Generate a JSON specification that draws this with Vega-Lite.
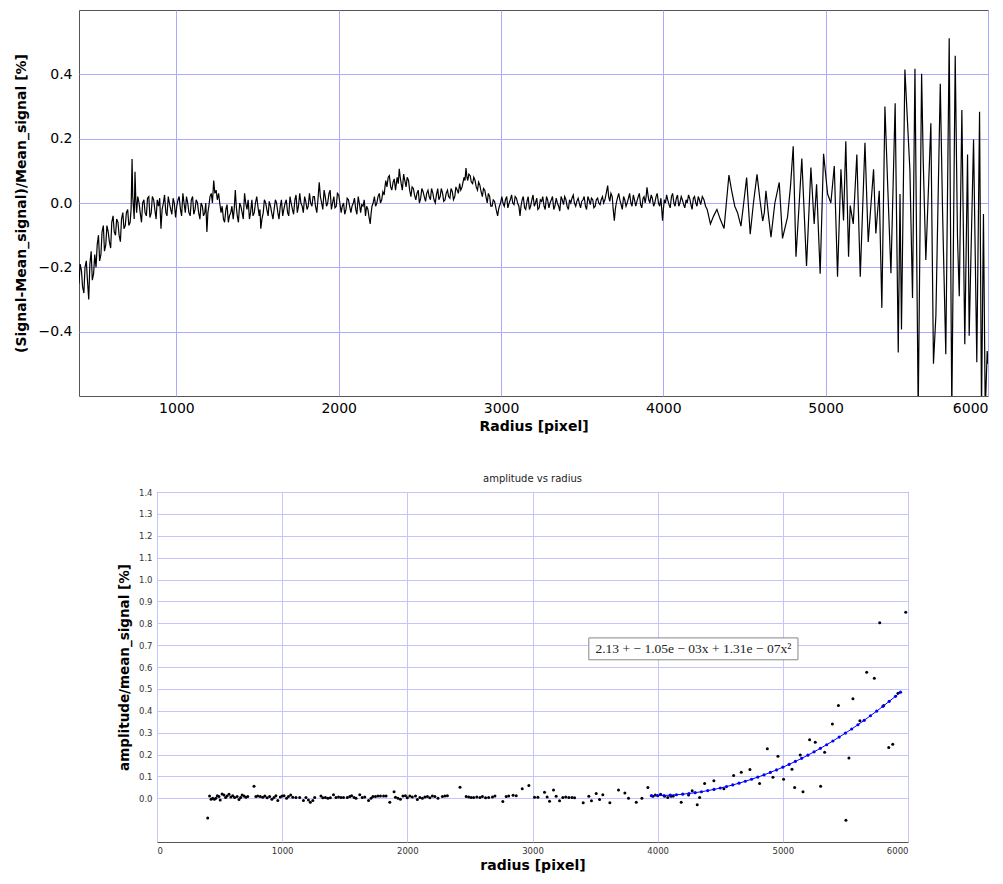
{
  "$schema": "https://vega.github.io/schema/vega-lite/v6.json",
  "background": "white",
  "padding": {"left": 13, "top": 9, "right": 0, "bottom": 0},
  "spacing": 39,
  "config": {
    "view": {"stroke": "#555555", "strokeWidth": 1},
    "font": "DejaVu Sans",
    "axis": {"domain": false, "ticks": false, "labelFont": "DejaVu Sans", "titleFont": "DejaVu Sans", "labelColor": "#000", "titleColor": "#000"}
  },
  "vconcat": [
    {
      "width": 909,
      "height": 386,
      "data": {"values": [
{"r":400,"v":-0.25},{"r":407,"v":-0.19},{"r":415,"v":-0.21},{"r":422,"v":-0.26},{"r":430,"v":-0.28},{"r":437,"v":-0.20},{"r":445,"v":-0.18},{"r":452,"v":-0.24},{"r":460,"v":-0.30},{"r":467,"v":-0.19},{"r":475,"v":-0.15},{"r":482,"v":-0.24},{"r":490,"v":-0.22},{"r":497,"v":-0.16},{"r":505,"v":-0.20},{"r":512,"v":-0.13},{"r":520,"v":-0.10},{"r":527,"v":-0.18},{"r":535,"v":-0.16},{"r":542,"v":-0.09},{"r":550,"v":-0.07},{"r":557,"v":-0.15},{"r":565,"v":-0.13},{"r":572,"v":-0.07},{"r":580,"v":-0.09},{"r":587,"v":-0.12},{"r":595,"v":-0.14},{"r":602,"v":-0.06},{"r":610,"v":-0.04},{"r":617,"v":-0.09},{"r":625,"v":-0.10},{"r":632,"v":-0.05},{"r":640,"v":-0.06},{"r":647,"v":-0.10},{"r":655,"v":-0.12},{"r":662,"v":-0.05},{"r":670,"v":-0.03},{"r":677,"v":-0.08},{"r":685,"v":-0.07},{"r":692,"v":-0.03},{"r":700,"v":-0.02},{"r":707,"v":-0.07},{"r":715,"v":-0.06},{"r":721,"v":-0.02},{"r":727,"v":0.137},{"r":731,"v":0.02},{"r":735,"v":-0.01},{"r":740,"v":-0.05},{"r":745,"v":0.097},{"r":750,"v":0.01},{"r":755,"v":-0.03},{"r":762,"v":0.02},{"r":770,"v":0.0},{"r":777,"v":-0.03},{"r":785,"v":-0.06},{"r":792,"v":0.0},{"r":800,"v":0.01},{"r":807,"v":-0.03},{"r":815,"v":-0.04},{"r":822,"v":0.015},{"r":830,"v":0.02},{"r":837,"v":-0.045},{"r":845,"v":-0.03},{"r":852,"v":0.02},{"r":860,"v":0.01},{"r":867,"v":-0.02},{"r":875,"v":-0.05},{"r":882,"v":0.01},{"r":890,"v":-0.01},{"r":897,"v":0.015},{"r":905,"v":-0.08},{"r":912,"v":-0.02},{"r":920,"v":0.0},{"r":927,"v":0.025},{"r":935,"v":-0.03},{"r":942,"v":-0.04},{"r":950,"v":0.02},{"r":957,"v":0.0},{"r":965,"v":-0.02},{"r":972,"v":-0.035},{"r":980,"v":0.015},{"r":987,"v":0.0},{"r":995,"v":-0.045},{"r":1002,"v":-0.01},{"r":1010,"v":0.01},{"r":1017,"v":0.02},{"r":1025,"v":-0.02},{"r":1032,"v":-0.04},{"r":1040,"v":0.03},{"r":1047,"v":0.0},{"r":1055,"v":-0.03},{"r":1062,"v":0.02},{"r":1070,"v":0.0},{"r":1077,"v":-0.03},{"r":1085,"v":-0.04},{"r":1092,"v":0.01},{"r":1100,"v":0.02},{"r":1107,"v":-0.035},{"r":1115,"v":-0.02},{"r":1122,"v":0.01},{"r":1130,"v":0.0},{"r":1137,"v":-0.03},{"r":1145,"v":-0.05},{"r":1152,"v":0.0},{"r":1160,"v":-0.01},{"r":1167,"v":-0.04},{"r":1175,"v":-0.03},{"r":1181,"v":0.0},{"r":1188,"v":-0.09},{"r":1194,"v":-0.03},{"r":1200,"v":-0.01},{"r":1207,"v":0.02},{"r":1215,"v":0.03},{"r":1222,"v":0.0},{"r":1230,"v":0.07},{"r":1237,"v":0.03},{"r":1245,"v":0.04},{"r":1252,"v":0.01},{"r":1260,"v":0.03},{"r":1267,"v":0.0},{"r":1275,"v":-0.03},{"r":1282,"v":-0.01},{"r":1290,"v":-0.05},{"r":1297,"v":-0.06},{"r":1305,"v":-0.02},{"r":1312,"v":-0.005},{"r":1320,"v":-0.06},{"r":1327,"v":-0.04},{"r":1335,"v":-0.03},{"r":1342,"v":-0.01},{"r":1350,"v":-0.05},{"r":1356,"v":-0.02},{"r":1363,"v":0.04},{"r":1369,"v":-0.01},{"r":1375,"v":-0.04},{"r":1382,"v":-0.06},{"r":1390,"v":0.0},{"r":1397,"v":-0.01},{"r":1405,"v":-0.03},{"r":1412,"v":-0.05},{"r":1420,"v":0.03},{"r":1427,"v":0.0},{"r":1435,"v":-0.02},{"r":1442,"v":0.01},{"r":1450,"v":-0.05},{"r":1457,"v":-0.03},{"r":1465,"v":0.01},{"r":1472,"v":-0.04},{"r":1480,"v":-0.03},{"r":1487,"v":0.0},{"r":1495,"v":0.02},{"r":1502,"v":-0.01},{"r":1510,"v":-0.04},{"r":1515,"v":-0.02},{"r":1520,"v":-0.08},{"r":1527,"v":-0.05},{"r":1535,"v":-0.03},{"r":1542,"v":0.01},{"r":1550,"v":0.0},{"r":1557,"v":-0.02},{"r":1565,"v":-0.04},{"r":1572,"v":0.005},{"r":1580,"v":-0.01},{"r":1587,"v":-0.03},{"r":1595,"v":-0.05},{"r":1602,"v":-0.02},{"r":1610,"v":0.01},{"r":1617,"v":0.0},{"r":1625,"v":-0.03},{"r":1632,"v":-0.05},{"r":1640,"v":-0.01},{"r":1647,"v":0.01},{"r":1655,"v":-0.04},{"r":1662,"v":-0.02},{"r":1670,"v":0.0},{"r":1677,"v":0.01},{"r":1685,"v":-0.03},{"r":1692,"v":-0.04},{"r":1700,"v":0.02},{"r":1707,"v":0.0},{"r":1715,"v":-0.02},{"r":1722,"v":-0.035},{"r":1730,"v":0.01},{"r":1737,"v":0.025},{"r":1745,"v":-0.03},{"r":1752,"v":-0.01},{"r":1760,"v":0.03},{"r":1767,"v":0.0},{"r":1775,"v":-0.01},{"r":1782,"v":-0.03},{"r":1790,"v":0.02},{"r":1797,"v":0.005},{"r":1805,"v":-0.02},{"r":1812,"v":-0.01},{"r":1820,"v":0.03},{"r":1827,"v":0.0},{"r":1835,"v":-0.01},{"r":1842,"v":0.02},{"r":1850,"v":0.02},{"r":1857,"v":-0.01},{"r":1865,"v":-0.03},{"r":1872,"v":0.01},{"r":1880,"v":0.064},{"r":1887,"v":0.02},{"r":1895,"v":0.0},{"r":1902,"v":-0.02},{"r":1910,"v":0.04},{"r":1917,"v":0.02},{"r":1925,"v":-0.01},{"r":1932,"v":0.0},{"r":1940,"v":0.03},{"r":1947,"v":0.04},{"r":1955,"v":-0.02},{"r":1962,"v":0.0},{"r":1970,"v":0.02},{"r":1977,"v":-0.015},{"r":1985,"v":-0.01},{"r":1992,"v":0.03},{"r":2000,"v":0.025},{"r":2007,"v":0.0},{"r":2015,"v":-0.03},{"r":2022,"v":-0.01},{"r":2030,"v":0.0},{"r":2037,"v":-0.035},{"r":2045,"v":-0.02},{"r":2052,"v":0.015},{"r":2060,"v":0.01},{"r":2067,"v":-0.01},{"r":2075,"v":-0.03},{"r":2082,"v":-0.01},{"r":2090,"v":0.0},{"r":2097,"v":0.015},{"r":2105,"v":-0.02},{"r":2112,"v":-0.035},{"r":2120,"v":0.02},{"r":2127,"v":0.0},{"r":2135,"v":-0.03},{"r":2142,"v":-0.005},{"r":2150,"v":-0.01},{"r":2157,"v":0.01},{"r":2165,"v":-0.04},{"r":2172,"v":-0.01},{"r":2180,"v":-0.02},{"r":2187,"v":-0.045},{"r":2194,"v":-0.065},{"r":2200,"v":-0.03},{"r":2205,"v":-0.01},{"r":2212,"v":0.0},{"r":2220,"v":0.02},{"r":2227,"v":-0.01},{"r":2235,"v":0.0},{"r":2242,"v":0.02},{"r":2250,"v":0.03},{"r":2257,"v":0.0},{"r":2265,"v":0.01},{"r":2272,"v":0.035},{"r":2280,"v":0.025},{"r":2285,"v":0.05},{"r":2290,"v":0.07},{"r":2297,"v":0.05},{"r":2305,"v":0.08},{"r":2312,"v":0.085},{"r":2320,"v":0.05},{"r":2327,"v":0.04},{"r":2335,"v":0.065},{"r":2342,"v":0.075},{"r":2350,"v":0.04},{"r":2355,"v":0.06},{"r":2360,"v":0.08},{"r":2367,"v":0.06},{"r":2373,"v":0.106},{"r":2379,"v":0.08},{"r":2385,"v":0.06},{"r":2392,"v":0.04},{"r":2400,"v":0.09},{"r":2407,"v":0.07},{"r":2415,"v":0.05},{"r":2422,"v":0.08},{"r":2430,"v":0.07},{"r":2437,"v":0.04},{"r":2445,"v":0.02},{"r":2452,"v":0.05},{"r":2460,"v":0.045},{"r":2467,"v":0.025},{"r":2475,"v":0.01},{"r":2482,"v":0.03},{"r":2490,"v":0.04},{"r":2497,"v":0.0},{"r":2505,"v":0.015},{"r":2512,"v":0.045},{"r":2520,"v":0.035},{"r":2527,"v":0.02},{"r":2535,"v":0.005},{"r":2542,"v":0.03},{"r":2550,"v":0.04},{"r":2557,"v":0.02},{"r":2565,"v":0.01},{"r":2572,"v":0.045},{"r":2580,"v":0.03},{"r":2587,"v":0.01},{"r":2595,"v":0.0},{"r":2602,"v":0.025},{"r":2610,"v":0.045},{"r":2617,"v":0.01},{"r":2625,"v":0.02},{"r":2632,"v":0.045},{"r":2640,"v":0.03},{"r":2647,"v":0.005},{"r":2655,"v":0.01},{"r":2662,"v":0.03},{"r":2670,"v":0.04},{"r":2677,"v":0.02},{"r":2685,"v":0.015},{"r":2692,"v":0.045},{"r":2700,"v":0.035},{"r":2707,"v":0.01},{"r":2715,"v":0.02},{"r":2722,"v":0.05},{"r":2730,"v":0.04},{"r":2737,"v":0.03},{"r":2745,"v":0.06},{"r":2752,"v":0.04},{"r":2760,"v":0.05},{"r":2766,"v":0.065},{"r":2772,"v":0.08},{"r":2778,"v":0.07},{"r":2784,"v":0.109},{"r":2790,"v":0.08},{"r":2795,"v":0.07},{"r":2802,"v":0.09},{"r":2810,"v":0.085},{"r":2817,"v":0.065},{"r":2825,"v":0.06},{"r":2832,"v":0.08},{"r":2840,"v":0.07},{"r":2847,"v":0.05},{"r":2855,"v":0.04},{"r":2862,"v":0.065},{"r":2870,"v":0.055},{"r":2877,"v":0.035},{"r":2885,"v":0.02},{"r":2892,"v":0.045},{"r":2900,"v":0.04},{"r":2907,"v":0.02},{"r":2915,"v":0.0},{"r":2922,"v":0.03},{"r":2930,"v":0.02},{"r":2937,"v":-0.01},{"r":2945,"v":-0.01},{"r":2952,"v":0.01},{"r":2960,"v":0.005},{"r":2970,"v":-0.02},{"r":2979,"v":-0.04},{"r":2985,"v":-0.02},{"r":2990,"v":-0.01},{"r":2997,"v":0.0},{"r":3005,"v":0.02},{"r":3012,"v":0.0},{"r":3020,"v":-0.01},{"r":3027,"v":0.01},{"r":3035,"v":0.02},{"r":3042,"v":-0.015},{"r":3050,"v":0.0},{"r":3057,"v":0.01},{"r":3065,"v":0.025},{"r":3072,"v":0.0},{"r":3080,"v":-0.005},{"r":3087,"v":0.02},{"r":3095,"v":0.015},{"r":3102,"v":0.0},{"r":3110,"v":-0.01},{"r":3117,"v":-0.04},{"r":3123,"v":-0.01},{"r":3130,"v":0.01},{"r":3137,"v":0.02},{"r":3145,"v":-0.015},{"r":3152,"v":-0.02},{"r":3160,"v":0.005},{"r":3167,"v":0.02},{"r":3175,"v":-0.02},{"r":3182,"v":-0.01},{"r":3190,"v":0.01},{"r":3197,"v":0.025},{"r":3205,"v":-0.01},{"r":3212,"v":0.0},{"r":3220,"v":0.015},{"r":3227,"v":-0.02},{"r":3235,"v":-0.015},{"r":3242,"v":0.01},{"r":3250,"v":0.005},{"r":3257,"v":0.02},{"r":3265,"v":-0.01},{"r":3272,"v":-0.02},{"r":3280,"v":0.02},{"r":3287,"v":0.01},{"r":3295,"v":-0.015},{"r":3302,"v":0.0},{"r":3310,"v":0.01},{"r":3317,"v":0.02},{"r":3325,"v":-0.02},{"r":3332,"v":-0.01},{"r":3340,"v":0.015},{"r":3347,"v":0.0},{"r":3355,"v":-0.01},{"r":3362,"v":-0.025},{"r":3370,"v":0.02},{"r":3377,"v":0.01},{"r":3385,"v":-0.005},{"r":3392,"v":0.02},{"r":3400,"v":0.01},{"r":3407,"v":-0.01},{"r":3415,"v":-0.02},{"r":3422,"v":0.01},{"r":3430,"v":0.0},{"r":3437,"v":0.015},{"r":3445,"v":0.025},{"r":3452,"v":0.0},{"r":3460,"v":-0.01},{"r":3467,"v":0.005},{"r":3475,"v":0.015},{"r":3482,"v":0.0},{"r":3490,"v":-0.015},{"r":3497,"v":0.005},{"r":3505,"v":0.01},{"r":3512,"v":0.02},{"r":3520,"v":-0.01},{"r":3527,"v":-0.02},{"r":3535,"v":0.02},{"r":3542,"v":0.01},{"r":3550,"v":-0.005},{"r":3557,"v":0.015},{"r":3565,"v":0.01},{"r":3572,"v":-0.015},{"r":3580,"v":-0.01},{"r":3587,"v":0.01},{"r":3595,"v":0.015},{"r":3602,"v":0.0},{"r":3610,"v":-0.005},{"r":3617,"v":0.01},{"r":3625,"v":0.02},{"r":3632,"v":0.0},{"r":3640,"v":0.01},{"r":3648,"v":0.03},{"r":3657,"v":0.054},{"r":3663,"v":0.02},{"r":3670,"v":0.005},{"r":3677,"v":0.03},{"r":3685,"v":0.02},{"r":3691,"v":-0.02},{"r":3698,"v":-0.055},{"r":3704,"v":-0.02},{"r":3710,"v":0.0},{"r":3717,"v":0.015},{"r":3725,"v":0.03},{"r":3732,"v":0.01},{"r":3740,"v":-0.005},{"r":3747,"v":-0.02},{"r":3755,"v":0.02},{"r":3762,"v":0.01},{"r":3770,"v":-0.01},{"r":3777,"v":0.0},{"r":3785,"v":0.015},{"r":3792,"v":0.03},{"r":3800,"v":0.0},{"r":3807,"v":-0.01},{"r":3815,"v":0.025},{"r":3822,"v":0.01},{"r":3830,"v":-0.01},{"r":3837,"v":0.005},{"r":3845,"v":0.02},{"r":3852,"v":0.03},{"r":3860,"v":-0.005},{"r":3867,"v":-0.015},{"r":3875,"v":0.015},{"r":3881,"v":0.02},{"r":3888,"v":0.0},{"r":3894,"v":0.02},{"r":3899,"v":0.049},{"r":3904,"v":0.03},{"r":3910,"v":0.01},{"r":3917,"v":0.0},{"r":3925,"v":0.025},{"r":3932,"v":0.015},{"r":3940,"v":-0.01},{"r":3947,"v":0.0},{"r":3955,"v":0.02},{"r":3962,"v":0.03},{"r":3970,"v":0.0},{"r":3977,"v":-0.01},{"r":3985,"v":0.015},{"r":3990,"v":-0.02},{"r":3995,"v":-0.055},{"r":4000,"v":-0.02},{"r":4006,"v":0.01},{"r":4013,"v":0.0},{"r":4020,"v":0.025},{"r":4027,"v":0.01},{"r":4035,"v":-0.005},{"r":4042,"v":-0.015},{"r":4050,"v":0.02},{"r":4057,"v":0.03},{"r":4065,"v":0.0},{"r":4072,"v":-0.01},{"r":4080,"v":0.015},{"r":4087,"v":0.025},{"r":4095,"v":-0.01},{"r":4102,"v":0.0},{"r":4110,"v":0.02},{"r":4117,"v":0.01},{"r":4125,"v":-0.005},{"r":4132,"v":-0.015},{"r":4140,"v":0.01},{"r":4147,"v":0.0},{"r":4155,"v":0.025},{"r":4162,"v":0.015},{"r":4170,"v":-0.005},{"r":4177,"v":-0.02},{"r":4185,"v":0.015},{"r":4192,"v":0.02},{"r":4200,"v":0.0},{"r":4207,"v":-0.01},{"r":4215,"v":0.02},{"r":4222,"v":0.01},{"r":4230,"v":-0.005},{"r":4240,"v":0.02},{"r":4250,"v":0.01},{"r":4260,"v":-0.01},{"r":4270,"v":-0.02},{"r":4290,"v":-0.065},{"r":4310,"v":-0.04},{"r":4330,"v":-0.02},{"r":4350,"v":-0.05},{"r":4374,"v":-0.079},{"r":4390,"v":0.01},{"r":4404,"v":0.087},{"r":4420,"v":0.04},{"r":4440,"v":-0.01},{"r":4457,"v":-0.03},{"r":4478,"v":-0.072},{"r":4495,"v":0.0},{"r":4513,"v":0.079},{"r":4535,"v":-0.097},{"r":4555,"v":0.0},{"r":4577,"v":0.089},{"r":4595,"v":0.01},{"r":4612,"v":-0.056},{"r":4622,"v":-0.03},{"r":4632,"v":0.038},{"r":4648,"v":-0.04},{"r":4663,"v":-0.106},{"r":4687,"v":0.0},{"r":4714,"v":0.064},{"r":4734,"v":-0.11},{"r":4765,"v":-0.044},{"r":4783,"v":0.05},{"r":4800,"v":0.176},{"r":4817,"v":-0.167},{"r":4837,"v":0.0},{"r":4853,"v":0.138},{"r":4882,"v":-0.196},{"r":4909,"v":0.11},{"r":4929,"v":-0.065},{"r":4944,"v":0.058},{"r":4966,"v":-0.22},{"r":4987,"v":0.153},{"r":5012,"v":0.028},{"r":5032,"v":0.0},{"r":5053,"v":0.115},{"r":5073,"v":-0.229},{"r":5094,"v":0.105},{"r":5110,"v":-0.054},{"r":5124,"v":0.192},{"r":5141,"v":-0.167},{"r":5151,"v":-0.008},{"r":5170,"v":-0.065},{"r":5192,"v":0.151},{"r":5213,"v":-0.229},{"r":5242,"v":0.187},{"r":5262,"v":-0.121},{"r":5295,"v":0.105},{"r":5309,"v":-0.095},{"r":5330,"v":0.038},{"r":5346,"v":-0.326},{"r":5365,"v":0.3},{"r":5381,"v":0.069},{"r":5402,"v":-0.218},{"r":5428,"v":0.31},{"r":5447,"v":-0.465},{"r":5458,"v":0.028},{"r":5467,"v":-0.393},{"r":5488,"v":0.415},{"r":5519,"v":0.1},{"r":5535,"v":-0.295},{"r":5550,"v":0.417},{"r":5570,"v":-0.65},{"r":5591,"v":0.402},{"r":5601,"v":0.13},{"r":5617,"v":-0.177},{"r":5648,"v":0.248},{"r":5664,"v":-0.5},{"r":5679,"v":-0.35},{"r":5706,"v":0.371},{"r":5720,"v":-0.024},{"r":5740,"v":-0.47},{"r":5761,"v":0.512},{"r":5777,"v":-0.65},{"r":5798,"v":0.458},{"r":5812,"v":-0.106},{"r":5823,"v":-0.29},{"r":5839,"v":0.289},{"r":5857,"v":-0.439},{"r":5874,"v":0.151},{"r":5884,"v":-0.413},{"r":5911,"v":0.197},{"r":5931,"v":-0.495},{"r":5948,"v":0.284},{"r":5960,"v":-0.65},{"r":5972,"v":-0.034},{"r":5983,"v":-0.65},{"r":5995,"v":-0.46},{"r":6000,"v":-0.5}
      ]},
      "mark": {"type": "line", "color": "#000000", "strokeWidth": 1.2, "clip": true},
      "encoding": {
        "x": {"field": "r", "type": "quantitative", "scale": {"domain": [400, 6000], "nice": false, "zero": false},
          "axis": {"values": [1000, 2000, 3000, 4000, 5000, 6000], "format": "d", "title": "Radius [pixel]", "labelFontSize": 14, "titleFontSize": 14, "titleFontWeight": "bold", "labelPadding": 5, "titlePadding": 4, "gridColor": "#aaaaff", "gridOpacity": 1}},
        "y": {"field": "v", "type": "quantitative", "scale": {"domain": [-0.6, 0.6], "nice": false},
          "axis": {"values": [-0.4, -0.2, 0, 0.2, 0.4], "format": ".1f", "title": "(Signal-Mean_signal)/Mean_signal [%]", "labelFontSize": 14, "titleFontSize": 14, "titleFontWeight": "bold", "labelPadding": 7, "titlePadding": 10, "gridColor": "#aaaaff", "gridOpacity": 1}}
      }
    },
    {
      "spacing": 0,
      "hconcat": [
        {
          "width": 37,
          "height": 350,
          "view": {"stroke": null},
          "data": {"values": [{"k": 1}]},
          "mark": {"type": "point", "opacity": 0},
          "encoding": {}
        },
        {
          "width": 751,
          "height": 350,
          "title": {"text": "amplitude vs radius", "fontSize": 10, "fontWeight": "normal", "color": "#222", "font": "DejaVu Sans", "offset": 4},
          "layer": [
            {
              "data": {"values": [
{"r":405,"a":-0.09},{"r":420,"a":0.01},{"r":432,"a":-0.005},{"r":445,"a":0.0},{"r":458,"a":-0.004},{"r":470,"a":0.0},{"r":482,"a":0.012},{"r":495,"a":0.008},{"r":505,"a":-0.008},{"r":520,"a":0.02},{"r":535,"a":0.015},{"r":548,"a":0.004},{"r":560,"a":0.01},{"r":575,"a":0.018},{"r":590,"a":0.006},{"r":605,"a":0.012},{"r":620,"a":0.003},{"r":640,"a":0.008},{"r":655,"a":-0.006},{"r":668,"a":0.004},{"r":680,"a":0.015},{"r":695,"a":0.01},{"r":710,"a":0.005},{"r":725,"a":0.008},{"r":775,"a":0.055},{"r":790,"a":0.008},{"r":805,"a":0.01},{"r":825,"a":0.008},{"r":845,"a":0.005},{"r":862,"a":0.01},{"r":880,"a":0.002},{"r":900,"a":0.008},{"r":918,"a":-0.004},{"r":935,"a":0.004},{"r":950,"a":0.012},{"r":965,"a":-0.01},{"r":985,"a":0.006},{"r":1000,"a":0.01},{"r":1015,"a":0.012},{"r":1035,"a":0.0},{"r":1050,"a":0.008},{"r":1068,"a":0.015},{"r":1085,"a":0.005},{"r":1110,"a":0.004},{"r":1140,"a":0.003},{"r":1170,"a":-0.01},{"r":1190,"a":0.004},{"r":1210,"a":-0.008},{"r":1225,"a":-0.018},{"r":1245,"a":-0.01},{"r":1260,"a":0.003},{"r":1310,"a":0.01},{"r":1325,"a":0.002},{"r":1345,"a":0.004},{"r":1365,"a":0.0},{"r":1385,"a":0.002},{"r":1410,"a":0.016},{"r":1430,"a":0.004},{"r":1450,"a":0.006},{"r":1470,"a":0.003},{"r":1490,"a":0.004},{"r":1520,"a":0.004},{"r":1540,"a":0.008},{"r":1555,"a":0.012},{"r":1575,"a":0.004},{"r":1590,"a":0.0},{"r":1620,"a":0.016},{"r":1640,"a":0.003},{"r":1660,"a":0.006},{"r":1690,"a":-0.01},{"r":1710,"a":0.0},{"r":1725,"a":0.008},{"r":1745,"a":0.008},{"r":1765,"a":0.01},{"r":1785,"a":0.01},{"r":1810,"a":0.01},{"r":1830,"a":0.01},{"r":1860,"a":-0.018},{"r":1894,"a":0.03},{"r":1905,"a":0.005},{"r":1925,"a":0.0},{"r":1945,"a":-0.004},{"r":1965,"a":0.01},{"r":1985,"a":0.012},{"r":2000,"a":0.002},{"r":2020,"a":0.01},{"r":2040,"a":0.006},{"r":2065,"a":0.01},{"r":2080,"a":-0.006},{"r":2100,"a":0.004},{"r":2120,"a":0.0},{"r":2140,"a":0.006},{"r":2160,"a":0.008},{"r":2180,"a":0.002},{"r":2200,"a":0.01},{"r":2220,"a":0.008},{"r":2245,"a":0.0},{"r":2280,"a":0.008},{"r":2300,"a":0.01},{"r":2320,"a":0.012},{"r":2421,"a":0.05},{"r":2470,"a":0.008},{"r":2490,"a":0.006},{"r":2510,"a":0.004},{"r":2530,"a":0.003},{"r":2555,"a":0.006},{"r":2580,"a":0.004},{"r":2600,"a":0.008},{"r":2625,"a":0.002},{"r":2650,"a":0.004},{"r":2680,"a":0.006},{"r":2700,"a":0.01},{"r":2763,"a":-0.015},{"r":2790,"a":0.008},{"r":2810,"a":0.01},{"r":2845,"a":0.014},{"r":2870,"a":0.012},{"r":2918,"a":0.043},{"r":2971,"a":0.058},{"r":3016,"a":0.005},{"r":3043,"a":0.005},{"r":3096,"a":0.027},{"r":3117,"a":0.006},{"r":3136,"a":-0.014},{"r":3168,"a":0.038},{"r":3189,"a":0.009},{"r":3216,"a":-0.011},{"r":3242,"a":0.004},{"r":3265,"a":0.006},{"r":3290,"a":0.004},{"r":3315,"a":0.003},{"r":3336,"a":0.002},{"r":3405,"a":-0.021},{"r":3450,"a":0.009},{"r":3471,"a":-0.011},{"r":3509,"a":0.022},{"r":3536,"a":-0.006},{"r":3562,"a":0.016},{"r":3618,"a":-0.021},{"r":3687,"a":0.038},{"r":3738,"a":0.024},{"r":3767,"a":0.0},{"r":3829,"a":-0.018},{"r":3874,"a":0.0},{"r":3922,"a":0.049},{"r":3962,"a":0.009},{"r":3981,"a":0.015},{"r":4023,"a":0.018},{"r":4055,"a":0.009},{"r":4081,"a":0.003},{"r":4108,"a":0.009},{"r":4125,"a":0.01},{"r":4188,"a":-0.018},{"r":4247,"a":0.015},{"r":4276,"a":0.034},{"r":4316,"a":-0.03},{"r":4335,"a":0.003},{"r":4375,"a":0.067},{"r":4449,"a":0.08},{"r":4529,"a":0.043},{"r":4607,"a":0.104},{"r":4668,"a":0.119},{"r":4737,"a":0.131},{"r":4814,"a":0.067},{"r":4876,"a":0.226},{"r":4921,"a":0.096},{"r":4961,"a":0.192},{"r":5006,"a":0.087},{"r":5073,"a":0.133},{"r":5094,"a":0.049},{"r":5139,"a":0.198},{"r":5161,"a":0.03},{"r":5214,"a":0.268},{"r":5259,"a":0.256},{"r":5302,"a":0.055},{"r":5334,"a":0.21},{"r":5396,"a":0.34},{"r":5444,"a":0.424},{"r":5504,"a":-0.1},{"r":5528,"a":0.184},{"r":5560,"a":0.455},{"r":5616,"a":0.354},{"r":5670,"a":0.576},{"r":5731,"a":0.549},{"r":5774,"a":0.802},{"r":5806,"a":0.424},{"r":5846,"a":0.232},{"r":5878,"a":0.247},{"r":5920,"a":0.48},{"r":5982,"a":0.85}
              ]},
              "mark": {"type": "circle", "color": "#000000", "size": 9, "opacity": 1},
              "encoding": {
                "x": {"field": "r", "type": "quantitative", "scale": {"domain": [0, 6000], "nice": false},
                  "axis": {"values": [0, 1000, 2000, 3000, 4000, 5000, 6000], "format": "d", "title": "radius [pixel]", "labelFontSize": 8.5, "labelColor": "#333", "titleFontSize": 14, "titleFontWeight": "bold", "labelPadding": 4, "titlePadding": 4, "gridColor": "#c4c4ff", "gridOpacity": 1}},
                "y": {"field": "a", "type": "quantitative", "scale": {"domain": [-0.2, 1.4], "nice": false},
                  "axis": {"values": [0, 0.1, 0.2, 0.3, 0.4, 0.5, 0.6, 0.7, 0.8, 0.9, 1.0, 1.1, 1.2, 1.3, 1.4], "labelOverlap": false, "format": ".1f", "title": "amplitude/mean_signal [%]", "labelFontSize": 8.5, "labelColor": "#333", "titleFontSize": 13.5, "titleFontWeight": "bold", "labelPadding": 5, "titlePadding": 7, "gridColor": "#c4c4ff", "gridOpacity": 1}}
              }
            },
            {
              "data": {"values": [
{"r":3950,"f":0.0119},{"r":4000,"f":0.012},{"r":4050,"f":0.0127},{"r":4100,"f":0.0141},{"r":4150,"f":0.0161},{"r":4200,"f":0.0186},{"r":4250,"f":0.0218},{"r":4300,"f":0.0256},{"r":4350,"f":0.0299},{"r":4400,"f":0.0349},{"r":4450,"f":0.0405},{"r":4500,"f":0.0467},{"r":4550,"f":0.0535},{"r":4600,"f":0.0609},{"r":4650,"f":0.0689},{"r":4700,"f":0.0776},{"r":4750,"f":0.0868},{"r":4800,"f":0.0966},{"r":4850,"f":0.107},{"r":4900,"f":0.1181},{"r":4950,"f":0.1297},{"r":5000,"f":0.142},{"r":5050,"f":0.1548},{"r":5100,"f":0.1683},{"r":5150,"f":0.1824},{"r":5200,"f":0.197},{"r":5250,"f":0.2123},{"r":5300,"f":0.2282},{"r":5350,"f":0.2447},{"r":5400,"f":0.2618},{"r":5450,"f":0.2795},{"r":5500,"f":0.2978},{"r":5550,"f":0.3167},{"r":5600,"f":0.3362},{"r":5650,"f":0.3563},{"r":5700,"f":0.3771},{"r":5750,"f":0.3984},{"r":5800,"f":0.4203},{"r":5850,"f":0.4429},{"r":5900,"f":0.466},{"r":5940,"f":0.485}
              ]},
              "mark": {"type": "line", "color": "#0000ff", "strokeWidth": 1, "point": {"filled": true, "size": 10, "color": "#0000ff"}},
              "encoding": {
                "x": {"field": "r", "type": "quantitative",
                  "axis": {"values": [0, 1000, 2000, 3000, 4000, 5000, 6000], "format": "d", "title": "radius [pixel]", "labelFontSize": 8.5, "labelColor": "#333", "titleFontSize": 14, "titleFontWeight": "bold", "labelPadding": 4, "titlePadding": 4, "gridColor": "#c4c4ff", "gridOpacity": 1}},
                "y": {"field": "f", "type": "quantitative",
                  "axis": {"values": [0, 0.1, 0.2, 0.3, 0.4, 0.5, 0.6, 0.7, 0.8, 0.9, 1.0, 1.1, 1.2, 1.3, 1.4], "labelOverlap": false, "format": ".1f", "title": "amplitude/mean_signal [%]", "labelFontSize": 8.5, "labelColor": "#333", "titleFontSize": 13.5, "titleFontWeight": "bold", "labelPadding": 5, "titlePadding": 7, "gridColor": "#c4c4ff", "gridOpacity": 1}}
              }
            },
            {
              "data": {"values": [{"label": "2.13 + − 1.05e − 03x + 1.31e − 07x²"}]},
              "mark": {"type": "rect", "fill": "white", "stroke": "#888888", "strokeWidth": 1},
              "encoding": {
                "x": {"datum": 3450, "type": "quantitative",
                  "axis": {"values": [0, 1000, 2000, 3000, 4000, 5000, 6000], "format": "d", "title": "radius [pixel]", "labelFontSize": 8.5, "labelColor": "#333", "titleFontSize": 14, "titleFontWeight": "bold", "labelPadding": 4, "titlePadding": 4, "gridColor": "#c4c4ff", "gridOpacity": 1}},
                "x2": {"datum": 5121},
                "y": {"datum": 0.733, "type": "quantitative",
                  "axis": {"values": [0, 0.1, 0.2, 0.3, 0.4, 0.5, 0.6, 0.7, 0.8, 0.9, 1.0, 1.1, 1.2, 1.3, 1.4], "labelOverlap": false, "format": ".1f", "title": "amplitude/mean_signal [%]", "labelFontSize": 8.5, "labelColor": "#333", "titleFontSize": 13.5, "titleFontWeight": "bold", "labelPadding": 5, "titlePadding": 7, "gridColor": "#c4c4ff", "gridOpacity": 1}},
                "y2": {"datum": 0.633}
              }
            },
            {
              "data": {"values": [{"label": "2.13 + − 1.05e − 03x + 1.31e − 07x²"}]},
              "mark": {"type": "text", "font": "Liberation Serif", "fontSize": 13.5, "color": "#222", "align": "center", "baseline": "middle"},
              "encoding": {
                "x": {"datum": 4285, "type": "quantitative",
                  "axis": {"values": [0, 1000, 2000, 3000, 4000, 5000, 6000], "format": "d", "title": "radius [pixel]", "labelFontSize": 8.5, "labelColor": "#333", "titleFontSize": 14, "titleFontWeight": "bold", "labelPadding": 4, "titlePadding": 4, "gridColor": "#c4c4ff", "gridOpacity": 1}},
                "y": {"datum": 0.683, "type": "quantitative",
                  "axis": {"values": [0, 0.1, 0.2, 0.3, 0.4, 0.5, 0.6, 0.7, 0.8, 0.9, 1.0, 1.1, 1.2, 1.3, 1.4], "labelOverlap": false, "format": ".1f", "title": "amplitude/mean_signal [%]", "labelFontSize": 8.5, "labelColor": "#333", "titleFontSize": 13.5, "titleFontWeight": "bold", "labelPadding": 5, "titlePadding": 7, "gridColor": "#c4c4ff", "gridOpacity": 1}},
                "text": {"field": "label"}
              }
            }
          ]
        }
      ]
    }
  ]
}
